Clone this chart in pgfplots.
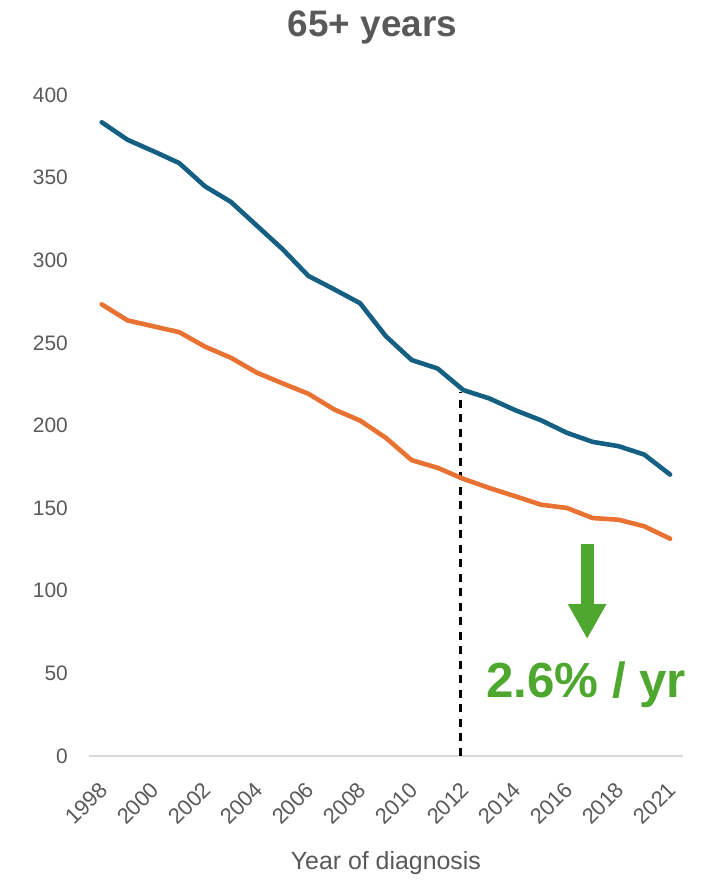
\documentclass[border=0pt]{standalone}
\usepackage{fontspec}
\setmainfont{Liberation Sans}
\usepackage{pgfplots}
\pgfplotsset{compat=1.18}
\usetikzlibrary{arrows.meta}

\definecolor{rateblue}{HTML}{156082}
\definecolor{rateorange}{HTML}{E97132}
\definecolor{trendgreen}{HTML}{4EA72E}
\definecolor{txtgray}{HTML}{595959}
\definecolor{axisgray}{HTML}{D9D9D9}

% index 0 = 1998 ... 21 = 2019, 22 = 2021 (no 2020)
\pgfplotstableread{
idx year upper lower
0  1998 383.5 273.3
1  1999 372.9 263.6
2  2000 366.0 260.0
3  2001 358.8 256.5
4  2002 344.7 247.7
5  2003 335.3 241.0
6  2004 321.0 232.0
7  2005 306.7 225.5
8  2006 290.5 219.2
9  2007 282.4 209.7
10 2008 274.0 203.0
11 2009 254.0 192.5
12 2010 239.6 179.0
13 2011 234.5 174.4
14 2012 221.4 167.7
15 2013 216.4 162.2
16 2014 209.3 157.2
17 2015 203.2 152.1
18 2016 195.6 150.1
19 2017 190.1 144.0
20 2018 187.5 143.0
21 2019 182.4 139.0
22 2021 170.3 131.5
}\ratetable

\begin{document}
\begin{tikzpicture}
\path[use as bounding box] (0,0) rectangle (715bp,881bp);
\begin{axis}[
  at={(88.8bp,125bp)}, anchor=south west,
  scale only axis, width=594.2bp, height=661bp,
  xmin=-0.5, xmax=22.5, ymin=0, ymax=400,
  clip=false,
  axis x line*=bottom, axis y line*=left,
  x axis line style={draw=axisgray, line width=1.3bp, -},
  y axis line style={draw=none},
  major tick length=0pt,
  xtick={0,2,4,6,8,10,12,14,16,18,20,22},
  xticklabels={1998,2000,2002,2004,2006,2008,2010,2012,2014,2016,2018,2021},
  ytick={0,50,...,400},
  /pgf/number format/assume math mode=true,
  tick label style={text=txtgray},
  yticklabel style={font=\fontsize{21}{25}\selectfont, inner sep=0pt, anchor=east, xshift=-20.8bp},
  xticklabel style={font=\fontsize{22}{26}\selectfont, inner sep=0pt, xshift=2bp, yshift=-30bp, rotate=45, anchor=east},
  xlabel={Year of diagnosis},
  xlabel style={font=\fontsize{25}{30}\selectfont, text=txtgray, inner sep=0pt,
                at={(axis description cs:0.5,0)}, anchor=base, yshift=-114bp},
]
% marker for 2012
\draw[black, line width=2.8bp, dash pattern=on 8bp off 6.5bp] (axis cs:13.88,0) -- (axis cs:13.88,220);

\addplot[rateblue, line width=4.6bp, line join=round, line cap=round]
  table[x=idx, y=upper] {\ratetable};
\addplot[rateorange, line width=4.6bp, line join=round, line cap=round]
  table[x=idx, y=lower] {\ratetable};

% annual decline annotation
\draw[trendgreen, line width=13bp, -{Triangle[length=35bp, width=36bp]}]
  (axis cs:18.79,128.3) -- (axis cs:18.79,70.8);
\node[text=trendgreen, font=\fontsize{49.5}{58}\selectfont\bfseries, anchor=base, inner sep=0pt]
  at (axis cs:18.75,35.7) {2.6\% / yr};

\node[text=txtgray, font=\fontsize{37}{44}\selectfont\bfseries, anchor=base, inner sep=0pt]
  at (axis cs:10.48,435.3) {65+ years};
\end{axis}
\end{tikzpicture}
\end{document}
